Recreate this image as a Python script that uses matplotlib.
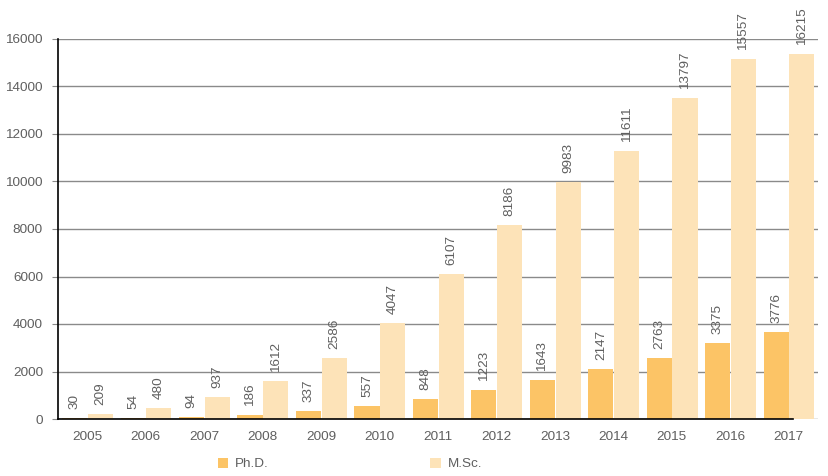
import numpy as np
import matplotlib.pyplot as plt

plt.rcParams['font.family'] = ['Liberation Sans', 'DejaVu Sans']

years = ['2005', '2006', '2007', '2008', '2009', '2010', '2011',
         '2012', '2013', '2014', '2015', '2016', '2017']
# values printed on the chart
phd = [30, 54, 94, 186, 337, 557, 848, 1223, 1643, 2147, 2763, 3375, 3776]
msc = [209, 480, 937, 1612, 2586, 4047, 6107, 8186, 9983, 11611, 13797, 15557, 16215]
# bar heights as drawn in the picture (the last few sit below their labels)
phd_bar = [30, 54, 94, 186, 337, 557, 840, 1210, 1625, 2125, 2585, 3210, 3670]
msc_bar = [209, 480, 937, 1612, 2586, 4047, 6107, 8186, 9983, 11290, 13520, 15160, 15370]

phd_color = '#fcc466'
msc_color = '#fde3b8'
text_color = '#5f5f5f'
fs = 9.7

fig = plt.figure(figsize=(8.29, 4.76), dpi=100)
ax = fig.add_axes([58 / 829, 1 - 419 / 476, 760 / 829, 380 / 476])

x = np.arange(len(years))
w = 0.43
b1 = ax.bar(x - 0.215, phd_bar, w, color=phd_color, label='Ph.D.', zorder=2)
b2 = ax.bar(x + 0.225, msc_bar, w, color=msc_color, label='M.Sc.', zorder=2)

# value labels, rotated, a little above each bar
for xs, tops, vals in [(x - 0.215, phd_bar, phd), (x + 0.225, msc_bar, msc)]:
    for xi, top, v in zip(xs, tops, vals):
        ax.annotate(str(v), (xi, top), xytext=(0, 6.5), textcoords='offset points',
                    rotation=90, ha='center', va='bottom', fontsize=fs,
                    color=text_color, annotation_clip=False)

ax.set_xlim(-0.5, len(years) - 0.5)
ax.set_ylim(0, 16000)
ax.set_yticks(np.arange(0, 16001, 2000))
ax.set_xticks(x)
ax.set_xticklabels(years)

ax.yaxis.grid(True, color='#8a8a8a', lw=1, zorder=1)
ax.set_axisbelow(True)
for s in ['top', 'right']:
    ax.spines[s].set_visible(False)
for s in ['left', 'bottom']:
    ax.spines[s].set_color('black')
    ax.spines[s].set_linewidth(1.2)
    ax.spines[s].set_zorder(3)
ax.spines['bottom'].set_bounds(-0.5, 12.07)

ax.tick_params(axis='y', length=4.3, color='#8a8a8a', labelsize=fs,
               labelcolor=text_color, pad=6.5)
ax.tick_params(axis='x', length=0, labelsize=fs, labelcolor=text_color, pad=9)

fig.legend(handles=[b1, b2], loc='center', bbox_to_anchor=(350 / 829, 1 - 464 / 476),
           ncol=2, frameon=False, fontsize=fs, labelcolor=text_color,
           handlelength=0.75, handleheight=0.75, handletextpad=0.55,
           columnspacing=12)

fig.savefig('out.png', dpi=100)
